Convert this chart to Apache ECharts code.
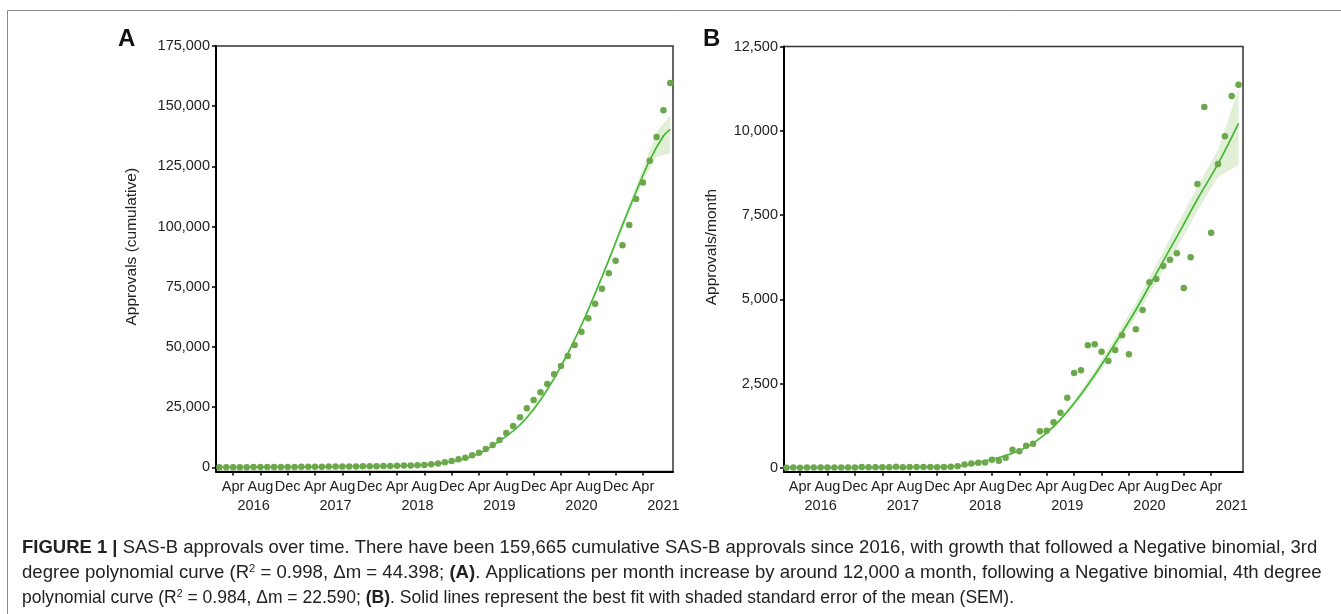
<!DOCTYPE html>
<html lang="en">
<head>
    <meta charset="UTF-8">
    <title>SAS-B approvals</title>
    <script src="https://cdn.jsdelivr.net/npm/echarts@6.0.0/dist/echarts.min.js"></script>
    <style>
        html, body { margin: 0; padding: 0; background: #fff; }
    </style>
</head>
<body>
<div id="main" style="width: 1341px;height:614px;"></div>
<script>
    // month index: 0 = Jan 2016
    var tickMonths = [3, 7, 11, 15, 19, 23, 27, 31, 35, 39, 43, 47, 51, 55, 59, 63];
    var tickNames = ['Apr', 'Aug', 'Dec', 'Apr', 'Aug', 'Dec', 'Apr', 'Aug', 'Dec', 'Apr', 'Aug', 'Dec', 'Apr', 'Aug', 'Dec', 'Apr'];
    var yearMonths = [6, 18, 30, 42, 54, 66];
    var yearNames = ['2016', '2017', '2018', '2019', '2020', '2021'];
    var firstMonth = 1; // Feb 2016, first point

    // A: cumulative approvals, one point per month
    var cumA = [15, 30, 40, 55, 65, 80, 95, 110, 120, 135, 150, 175, 190, 210, 225, 245, 280, 300, 325, 350,
        380, 410, 435, 470, 510, 555, 640, 700, 760, 860, 1000, 1250, 1550, 2080, 2600, 3300, 4000, 5000, 6070, 7600,
        9260, 11340, 14240, 17150, 20760, 24500, 27950, 31150, 34600, 38600, 42070, 46220, 50790, 56310, 61880, 67940, 74170, 80570, 85800, 92200,
        100600, 111400, 118350, 127300, 137200, 148300, 159665];
    // B: approvals per month
    var monthB = [10, 12, 10, 12, 14, 12, 15, 14, 16, 15, 18, 30, 20, 22, 20, 24, 38, 25, 26, 30,
        32, 30, 20, 30, 35, 50, 100, 135, 155, 160, 247, 217, 306, 543, 494, 662, 721, 1088, 1108, 1355,
        1641, 2086, 2818, 2897, 3638, 3668, 3450, 3174, 3500, 3935, 3371, 4113, 4686, 5507, 5605, 5991, 6179, 6367, 5339, 6249,
        8423, 10707, 6980, 9017, 9838, 11033, 11369];

    // fitted curves
    var fitAx = [1, 5, 10, 15, 20, 25, 28, 30, 32, 34, 36, 38, 40, 42, 44, 46, 48, 50, 52, 54, 56, 58, 60, 62, 64, 66, 67];
    var fitAy = [30, 60, 110, 190, 320, 520, 700, 880, 1250, 1850, 2800, 4500, 7200, 10900, 15080, 20600, 27950, 36960, 47340, 59100, 72250, 86090, 100630, 114470, 127630, 137600, 140370];
    var bandAx = [40, 45, 50, 53, 55, 57, 59, 61, 63, 65, 67];
    var bandAlo = [7100, 17170, 36460, 52170, 64430, 78070, 92000, 105500, 118700, 129000, 130400];
    var bandAhi = [7300, 17970, 37460, 53570, 66230, 80270, 94600, 109600, 124200, 139400, 146300];

    var fitBx = [1, 5, 10, 15, 20, 22, 25, 28, 31, 34, 37, 40, 43, 46, 49, 52, 55, 58, 61, 64, 67];
    var fitBy = [15, 15, 16, 18, 22, 25, 45, 110, 258, 435, 732, 1226, 1918, 2758, 3698, 4686, 5774, 6861, 7970, 9017, 10220];
    var bandBx = [38, 40, 43, 46, 49, 52, 55, 58, 61, 64, 67];
    var bandBlo = [985, 1176, 1838, 2638, 3528, 4476, 5514, 6521, 7632, 8640, 8987];
    var bandBhi = [1015, 1276, 1998, 2878, 3868, 4896, 6034, 7201, 8343, 9432, 11250];

    var yTicksA = [0, 25000, 50000, 75000, 100000, 125000, 150000, 175000];
    var yTicksB = [0, 2500, 5000, 7500, 10000, 12500];

    var font = "'Liberation Sans', Arial, Helvetica, sans-serif";
    var textColor = '#222';
    var dotColor = '#6ca84b';
    var lineColor = '#3cb82c';
    var bandColor = '#e0efd6';

    function comma(v) {
        return String(v).replace(/\B(?=(\d{3})+(?!\d))/g, ',');
    }
    function pairs(xs, ys) {
        return xs.map(function (x, i) { return [x, ys[i]]; });
    }
    function monthAxis(grid, min, max) {
        return {
            type: 'value', gridIndex: grid, min: min, max: max, position: 'bottom',
            axisLine: { onZero: false, lineStyle: { color: '#000', width: 2 } },
            axisTick: { show: true, customValues: tickMonths, length: 4, lineStyle: { color: '#000', width: 1.5 } },
            axisLabel: {
                customValues: tickMonths, margin: 8, color: textColor, fontFamily: font, fontSize: 14.5,
                formatter: function (v) { return tickNames[tickMonths.indexOf(v)]; }
            },
            splitLine: { show: false }
        };
    }
    function yearAxis(grid, min, max) {
        return {
            type: 'value', gridIndex: grid, min: min, max: max, position: 'bottom', offset: 19,
            axisLine: { show: false }, axisTick: { show: false }, splitLine: { show: false },
            axisLabel: {
                customValues: yearMonths, margin: 8, color: textColor, fontFamily: font, fontSize: 14.5,
                formatter: function (v) { return yearNames[yearMonths.indexOf(v)]; }
            }
        };
    }
    function valueAxis(grid, min, max, ticks, name, gap) {
        return {
            type: 'value', gridIndex: grid, min: min, max: max,
            name: name, nameLocation: 'middle', nameGap: gap,
            nameTextStyle: { color: textColor, fontFamily: font, fontSize: 15.5, padding: [0, 0, 0, 24] },
            axisLine: { show: true, onZero: false, lineStyle: { color: '#000', width: 2 } },
            axisTick: { show: true, customValues: ticks, length: 4, lineStyle: { color: '#000', width: 1.5 } },
            axisLabel: {
                customValues: ticks, margin: 6, color: textColor, fontFamily: font, fontSize: 14.5,
                formatter: function (v) { return comma(v); }
            },
            splitLine: { show: false }
        };
    }
    // shaded SEM band as one polygon, placed through the axes
    function bandSeries(xi, yi, bx, blo, bhi) {
        return {
            type: 'custom', xAxisIndex: xi, yAxisIndex: yi, silent: true, z: 1,
            data: bx.map(function (x, i) { return [x, blo[i], bhi[i]]; }),
            encode: { x: 0, y: [1, 2] },
            renderItem: function (params, api) {
                if (params.dataIndex !== 0) return null;
                var top = [], bottom = [];
                for (var i = 0; i < bx.length; i++) {
                    top.push(api.coord([bx[i], bhi[i]]));
                    bottom.unshift(api.coord([bx[i], blo[i]]));
                }
                return {
                    type: 'polygon',
                    shape: { points: top.concat(bottom) },
                    style: { fill: bandColor, stroke: null }
                };
            }
        };
    }
    function panelSeries(xi, yi, dots, fitX, fitY, bx, blo, bhi) {
        return [
            bandSeries(xi, yi, bx, blo, bhi),
            {
                type: 'line', xAxisIndex: xi, yAxisIndex: yi, data: pairs(fitX, fitY),
                smooth: 0.35, symbol: 'none', silent: true,
                lineStyle: { color: lineColor, width: 1.6 }, z: 3
            },
            {
                type: 'scatter', xAxisIndex: xi, yAxisIndex: yi,
                data: dots.map(function (v, i) { return [firstMonth + i, v]; }),
                symbolSize: 6.5, itemStyle: { color: dotColor, opacity: 1 }, z: 4
            }
        ];
    }

    var myChart = echarts.init(document.getElementById('main'));

    var captionRich = {
        b: { fontWeight: 'bold', fontFamily: font, fontSize: 18.2 },
        sup: { fontSize: 11, fontFamily: font, verticalAlign: 'top', lineHeight: 20 }
    };
    function captionLine(y, sx, text) {
        return {
            type: 'text', x: 22, y: y, scaleX: sx,
            style: {
                text: text, fill: textColor, fontFamily: font, fontSize: 18.2,
                verticalAlign: 'middle', rich: captionRich
            }
        };
    }

    var option = {
        animation: false,
        backgroundColor: '#fff',
        grid: [
            { left: 216, top: 46, width: 457, height: 425.5, show: true, borderColor: '#333', borderWidth: 1.5, outerBoundsMode: 'none' },
            { left: 784, top: 46.5, width: 459, height: 425.2, show: true, borderColor: '#333', borderWidth: 1.5, outerBoundsMode: 'none' }
        ],
        xAxis: [
            monthAxis(0, 0.5, 67.4), yearAxis(0, 0.5, 67.4),
            monthAxis(1, 0.65, 67.65), yearAxis(1, 0.65, 67.65)
        ],
        yAxis: [
            valueAxis(0, -1745, 175000, yTicksA, 'Approvals (cumulative)', 76),
            valueAxis(1, -110, 12500, yTicksB, 'Approvals/month', 64)
        ],
        series: []
            .concat(panelSeries(0, 0, cumA, fitAx, fitAy, bandAx, bandAlo, bandAhi))
            .concat(panelSeries(2, 1, monthB, fitBx, fitBy, bandBx, bandBlo, bandBhi)),
        graphic: [
            {
                type: 'rect', silent: true, z: -1,
                shape: { x: 7.5, y: 10.5, width: 1400, height: 700 },
                style: { fill: 'none', stroke: '#8a8a8a', lineWidth: 1 }
            },
            {
                type: 'text', left: 118, top: 27,
                style: { text: 'A', fill: '#111', font: "bold 24px 'Liberation Sans', Arial, sans-serif" }
            },
            {
                type: 'text', left: 703, top: 27,
                style: { text: 'B', fill: '#111', font: "bold 24px 'Liberation Sans', Arial, sans-serif" }
            },
            captionLine(548, 1.016, '{b|FIGURE 1 |} SAS-B approvals over time. There have been 159,665 cumulative SAS-B approvals since 2016, with growth that followed a Negative binomial, 3rd'),
            captionLine(573, 1.021, 'degree polynomial curve (R{sup|2} = 0.998, \u0394m = 44.398; {b|(A)}. Applications per month increase by around 12,000 a month, following a Negative binomial, 4th degree'),
            captionLine(598, 0.963, 'polynomial curve (R{sup|2} = 0.984, \u0394m = 22.590; {b|(B)}. Solid lines represent the best fit with shaded standard error of the mean (SEM).')
        ]
    };
    myChart.setOption(option);
</script>
</body>
</html>
